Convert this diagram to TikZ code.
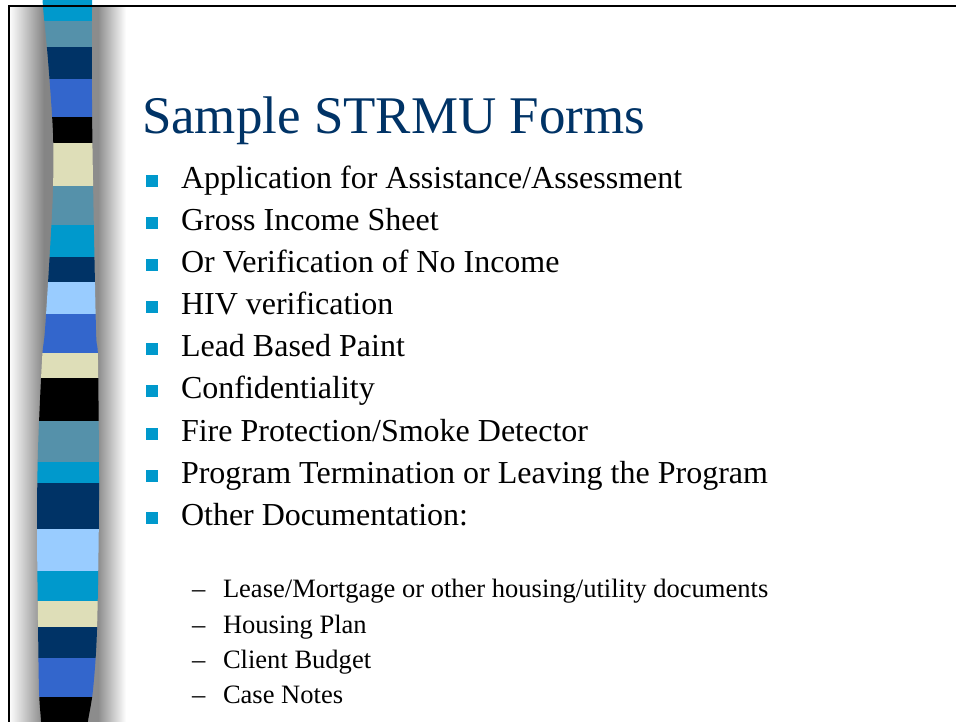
\documentclass[tikz,border=0pt]{standalone}
\usepackage{fontspec}
\setmainfont{Liberation Serif}
\definecolor{cyanS}{HTML}{0099CC}
\definecolor{steelS}{HTML}{5591AA}
\definecolor{navyS}{HTML}{003366}
\definecolor{royalS}{HTML}{3366CC}
\definecolor{beigeS}{HTML}{DEDEB8}
\definecolor{lightS}{HTML}{99CCFF}
\definecolor{titleS}{HTML}{003366}
\begin{document}
\begin{tikzpicture}[x=0.75pt,y=-0.75pt,
  txt/.style={anchor=base west,inner sep=0pt,outer sep=0pt},
  mainitem/.style={txt,font=\fontsize{24pt}{28pt}\selectfont},
  subitem/.style={txt,font=\fontsize{19.9pt}{23pt}\selectfont},
  bulletsq/.style={fill=cyanS,inner sep=0pt,minimum size=9pt,anchor=center},
  dashmark/.style={txt,font=\fontsize{19.9pt}{23pt}\selectfont}]
\useasboundingbox (0,0) rectangle (956,721);
\fill[white] (0,0) rectangle (956,721);
% shadows
\shade[left color=white,right color=black!48] (9,5) rectangle (44,730);
\fill[black!48] (44,5) rectangle (60,730);
\fill[black!45] (80,5) rectangle (98,730);
\shade[left color=black!45,right color=white] (98,5) rectangle (126,730);
% stripe
\begin{scope}
\clip plot[smooth] coordinates {(43,0) (43,7) (48,60) (53,133) (53,190) (50,250) (45,330) (42,360) (38,450) (37,527) (38,620) (39,690) (41,721) (41,730)}
  -- plot[smooth] coordinates {(88,730) (88,721) (93,690) (97,630) (99,500) (98,360) (96,330) (93,180) (92,100) (92,7) (92,0)} -- cycle;
\fill[cyanS]  (20,0) rectangle (120,21);
\fill[steelS] (20,21) rectangle (120,47);
\fill[navyS]  (20,47) rectangle (120,79);
\fill[royalS] (20,79) rectangle (120,117);
\fill[black]  (20,117) rectangle (120,143);
\fill[beigeS] (20,143) rectangle (120,186);
\fill[steelS] (20,186) rectangle (120,225);
\fill[cyanS]  (20,225) rectangle (120,257);
\fill[navyS]  (20,257) rectangle (120,282);
\fill[lightS] (20,282) rectangle (120,314);
\fill[royalS] (20,314) rectangle (120,353);
\fill[beigeS] (20,353) rectangle (120,378);
\fill[black]  (20,378) rectangle (120,421);
\fill[steelS] (20,421) rectangle (120,462);
\fill[cyanS]  (20,462) rectangle (120,483);
\fill[navyS]  (20,483) rectangle (120,529);
\fill[lightS] (20,529) rectangle (120,571);
\fill[cyanS]  (20,571) rectangle (120,601);
\fill[beigeS] (20,601) rectangle (120,627);
\fill[navyS]  (20,627) rectangle (120,658);
\fill[royalS] (20,658) rectangle (120,697);
\fill[black]  (20,697) rectangle (120,730);
\end{scope}
% frame
\draw[line width=1.5pt] (8.5,730) -- (8.5,5.5) -- (960,5.5);
% title
\node[txt,text=titleS,font=\fontsize{39.7pt}{46pt}\selectfont] (title) at (142,133) {Sample STRMU Forms};
% main items
\node[mainitem] (b1) at (181,188) {Application for Assistance/Assessment};
\node[mainitem] (b2) at (181,230) {Gross Income Sheet};
\node[mainitem] (b3) at (181,272) {Or Verification of No Income};
\node[mainitem] (b4) at (181,314) {HIV verification};
\node[mainitem] (b5) at (181,356) {Lead Based Paint};
\node[mainitem] (b6) at (181,398) {Confidentiality};
\node[mainitem] (b7) at (181,441) {Fire Protection/Smoke Detector};
\node[mainitem] (b8) at (181,483) {Program Termination or Leaving the Program};
\node[mainitem] (b9) at (181,525) {Other Documentation:};
\foreach \i/\yy in {1/180.5,2/222.5,3/264.5,4/306.5,5/348.5,6/390.5,7/433.5,8/475.5,9/517.5}
  \node[bulletsq] (q\i) at (152,\yy) {};
% sub items
\node[subitem] (s1) at (223,597) {Lease/Mortgage or other housing/utility documents};
\node[subitem] (s2) at (223,633) {Housing Plan};
\node[subitem] (s3) at (223,668) {Client Budget};
\node[subitem] (s4) at (223,703) {Case Notes};
\foreach \i/\yy in {1/597,2/633,3/668,4/703}
  \node[dashmark] (d\i) at (192,\yy) {–};
\end{tikzpicture}
\end{document}
